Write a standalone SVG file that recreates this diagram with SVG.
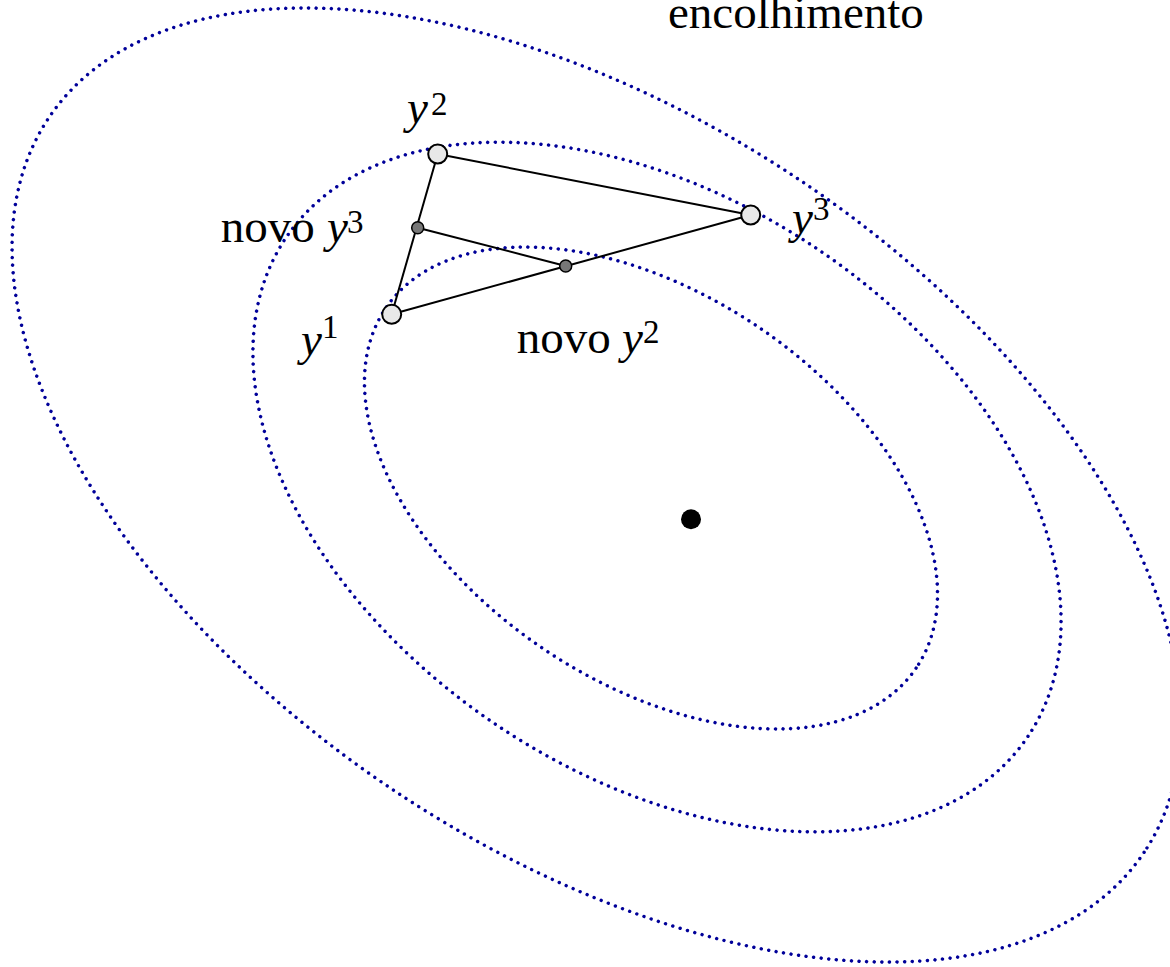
<svg xmlns="http://www.w3.org/2000/svg" width="1170" height="967" viewBox="0 0 1170 967">
<style>
.lvl{fill:none;stroke:#000099;stroke-width:3.4;stroke-dasharray:0 7.6;stroke-linecap:round}
.edge{stroke:#000;stroke-width:2;fill:none}
.vert{fill:#e8e8e8;stroke:#000;stroke-width:2}
.newp{fill:#777;stroke:#000;stroke-width:1.5}
text{font-family:"Liberation Serif","Times New Roman",serif;fill:#000}
.lab{font-size:47px}
.it{font-style:italic}
.sup{font-size:33px}
</style>
<rect width="1170" height="967" fill="#fff"/>
<g id="contours">
<ellipse class="lvl" cx="596.5" cy="485" rx="659.4" ry="366.5" transform="rotate(33.85 596.5 485)"/>
<ellipse class="lvl" cx="657" cy="487" rx="447" ry="287" transform="rotate(33.9 657 487)"/>
<ellipse class="lvl" cx="651" cy="488" rx="320.5" ry="193.5" transform="rotate(34.2 651 488)"/>
</g>
<g id="connectors">
<line class="edge" x1="437.7" y1="154" x2="750.7" y2="215"/>
<line class="edge" x1="750.7" y1="215" x2="391.7" y2="314.3"/>
<line class="edge" x1="391.7" y1="314.3" x2="437.7" y2="154"/>
<line class="edge" x1="417.7" y1="227.7" x2="565.7" y2="266"/>
</g>
<g id="title"><text class="lab" x="668" y="28">encolhimento</text></g>
<g id="y2"><circle class="vert" cx="437.7" cy="154" r="9.5"/>
<text class="lab"><tspan class="it" x="407" y="123">y</tspan><tspan class="sup" x="431" y="115">2</tspan></text></g>
<g id="y3"><circle class="vert" cx="750.7" cy="215" r="9.5"/>
<text class="lab"><tspan class="it" x="792" y="233">y</tspan><tspan class="sup" x="813" y="220">3</tspan></text></g>
<g id="y1"><circle class="vert" cx="391.7" cy="314.3" r="9.5"/>
<text class="lab"><tspan class="it" x="301" y="355">y</tspan><tspan class="sup" x="322" y="338">1</tspan></text></g>
<g id="novo-y3"><circle class="newp" cx="417.7" cy="227.7" r="6"/>
<text class="lab"><tspan x="220.7" y="242">novo </tspan><tspan class="it" x="327" y="242">y</tspan><tspan class="sup" x="347" y="233">3</tspan></text></g>
<g id="novo-y2"><circle class="newp" cx="565.7" cy="266" r="6"/>
<text class="lab"><tspan x="516.7" y="353">novo </tspan><tspan class="it" x="622" y="353">y</tspan><tspan class="sup" x="643" y="343">2</tspan></text></g>
<g id="minimum"><circle cx="691" cy="519.3" r="10" fill="#000"/></g>
</svg>
